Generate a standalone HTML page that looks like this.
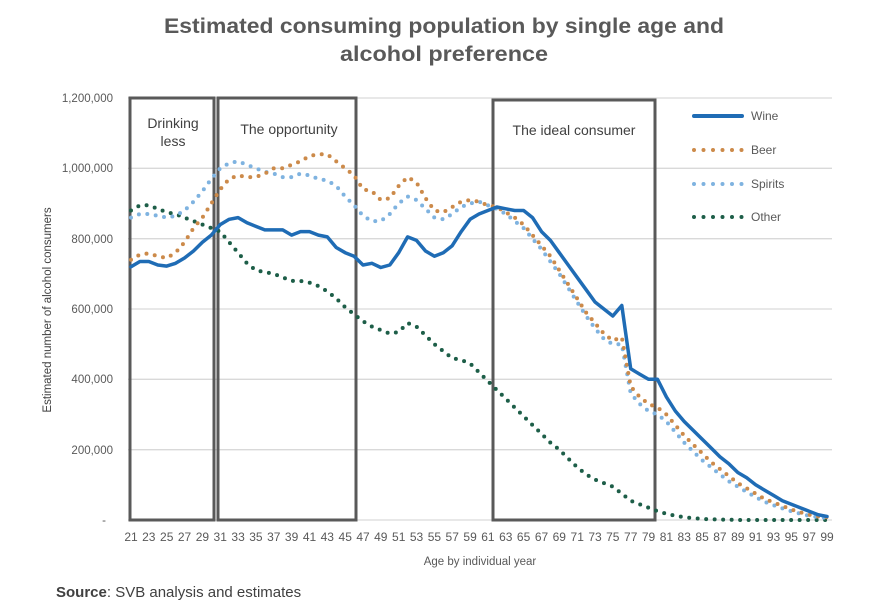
<!DOCTYPE html>
<html><head><meta charset="utf-8"><style>
html,body{margin:0;padding:0;background:#fff;}
svg{display:block;font-family:"Liberation Sans",Arial,sans-serif;}
</style></head><body>
<svg width="870" height="616" viewBox="0 0 870 616" xmlns="http://www.w3.org/2000/svg">
<text x="444" y="33" text-anchor="middle" font-size="21" font-weight="bold" fill="#595959" textLength="560" lengthAdjust="spacingAndGlyphs">Estimated consuming population by single age and</text>
<text x="444" y="61" text-anchor="middle" font-size="21" font-weight="bold" fill="#595959" textLength="208" lengthAdjust="spacingAndGlyphs">alcohol preference</text>
<g stroke="#d9d9d9" stroke-width="1.3">
<line x1="128" y1="98" x2="832" y2="98"/><line x1="128" y1="168.3" x2="832" y2="168.3"/><line x1="128" y1="238.7" x2="832" y2="238.7"/><line x1="128" y1="309" x2="832" y2="309"/><line x1="128" y1="379.3" x2="832" y2="379.3"/><line x1="128" y1="449.7" x2="832" y2="449.7"/><line x1="128" y1="520" x2="832" y2="520"/>
</g>
<g font-size="11.5" fill="#595959" text-anchor="end">
<text x="113" y="102">1,200,000</text><text x="113" y="172">1,000,000</text><text x="113" y="243">800,000</text><text x="113" y="313">600,000</text><text x="113" y="383">400,000</text><text x="113" y="454">200,000</text><text x="106" y="524">-</text>
</g>
<text transform="translate(51,310) rotate(-90)" text-anchor="middle" font-size="11.5" fill="#404040">Estimated number of alcohol consumers</text>
<g font-size="12" fill="#595959" text-anchor="middle">
<text x="131" y="541">21</text><text x="148.8" y="541">23</text><text x="166.7" y="541">25</text><text x="184.5" y="541">27</text><text x="202.4" y="541">29</text><text x="220.2" y="541">31</text><text x="238.1" y="541">33</text><text x="255.9" y="541">35</text><text x="273.8" y="541">37</text><text x="291.6" y="541">39</text><text x="309.5" y="541">41</text><text x="327.3" y="541">43</text><text x="345.2" y="541">45</text><text x="363" y="541">47</text><text x="380.8" y="541">49</text><text x="398.7" y="541">51</text><text x="416.5" y="541">53</text><text x="434.4" y="541">55</text><text x="452.2" y="541">57</text><text x="470.1" y="541">59</text><text x="487.9" y="541">61</text><text x="505.8" y="541">63</text><text x="523.6" y="541">65</text><text x="541.5" y="541">67</text><text x="559.3" y="541">69</text><text x="577.2" y="541">71</text><text x="595" y="541">73</text><text x="612.8" y="541">75</text><text x="630.7" y="541">77</text><text x="648.5" y="541">79</text><text x="666.4" y="541">81</text><text x="684.2" y="541">83</text><text x="702.1" y="541">85</text><text x="719.9" y="541">87</text><text x="737.8" y="541">89</text><text x="755.6" y="541">91</text><text x="773.5" y="541">93</text><text x="791.3" y="541">95</text><text x="809.2" y="541">97</text><text x="827" y="541">99</text>
</g>
<text x="480" y="565" text-anchor="middle" font-size="11.5" fill="#595959">Age by individual year</text>
<text x="56" y="597" font-size="15" fill="#404040"><tspan font-weight="bold">Source</tspan>: SVB analysis and estimates</text>
<g fill="none" stroke="#595959" stroke-width="3">
<rect x="130" y="98" width="84" height="422"/>
<rect x="218" y="98" width="138" height="422"/>
<rect x="493" y="100" width="162" height="420"/>
</g>
<g font-size="14" fill="#404040" text-anchor="middle">
<text x="173" y="128">Drinking</text><text x="173" y="146">less</text>
<text x="289" y="134">The opportunity</text>
<text x="574" y="135">The ideal consumer</text>
</g>
<g id="series"></g>
<g font-size="12" fill="#595959">
<line x1="694" y1="116" x2="742" y2="116" stroke="#1f6cb5" stroke-width="4" stroke-linecap="round"/>
<text x="751" y="120">Wine</text>
<line x1="694" y1="150" x2="742" y2="150" stroke="#cc8a4a" stroke-width="4" stroke-linecap="round" stroke-dasharray="0 9.5"/>
<text x="751" y="154">Beer</text>
<line x1="694" y1="184" x2="742" y2="184" stroke="#7fb3e0" stroke-width="4" stroke-linecap="round" stroke-dasharray="0 9.5"/>
<text x="751" y="188">Spirits</text>
<line x1="694" y1="217" x2="742" y2="217" stroke="#1d5e48" stroke-width="4" stroke-linecap="round" stroke-dasharray="0 9.5"/>
<text x="751" y="221">Other</text>
</g>
</svg>
<script>
var NS="http://www.w3.org/2000/svg";
function X(a){return 131+(a-21)*8.923;}
function Y(v){return 520-v*0.35167;}
var wine=[720,735,735,725,722,730,745,765,790,810,840,855,860,845,835,825,825,825,810,820,820,810,805,775,760,750,725,730,718,725,760,805,795,765,750,760,780,820,855,870,880,890,885,880,880,860,820,795,760,725,690,655,620,600,580,610,430,415,400,400,350,310,280,255,230,205,180,160,135,120,100,85,70,55,45,35,25,15,10];
var beer=[740,755,758,750,745,760,790,830,860,900,940,970,980,975,975,985,1000,1000,1010,1020,1035,1040,1040,1020,1000,980,940,935,910,915,950,975,960,915,880,875,890,905,910,905,895,890,875,860,840,810,780,750,710,670,630,590,560,530,510,520,380,350,330,320,300,270,240,215,190,165,145,125,105,90,75,60,50,40,30,22,15,10,8];
var spir=[860,870,870,865,860,865,880,905,935,970,1000,1015,1020,1010,1000,990,985,975,975,985,980,970,965,950,920,895,865,850,850,870,900,920,910,885,860,855,870,890,900,905,895,885,870,850,830,800,770,735,700,660,620,580,545,515,500,500,360,330,310,300,280,250,220,195,170,150,130,110,95,80,65,52,42,33,25,18,12,8,6];
var oth=[880,895,895,885,875,870,860,850,840,830,820,790,760,730,710,705,700,690,680,680,675,665,650,630,605,585,565,550,540,530,535,560,550,525,500,480,460,455,445,420,395,370,345,320,295,270,245,220,200,175,150,130,115,105,95,75,55,45,35,25,18,12,8,5,3,2,1,1,0,0,0,0,0,0,0,0,0,0,0];
function pts(d){return d.map(function(v,i){return X(21+i).toFixed(1)+","+Y(v).toFixed(1);}).join(" ");}
var g=document.getElementById("series");
function add(d,c,dash){var p=document.createElementNS(NS,"polyline");p.setAttribute("points",pts(d));p.setAttribute("fill","none");p.setAttribute("stroke",c);p.setAttribute("stroke-width",dash?"4":"3.5");p.setAttribute("stroke-linecap","round");p.setAttribute("stroke-linejoin","round");if(dash)p.setAttribute("stroke-dasharray","0 8.5");g.appendChild(p);}
add(oth,"#1d5e48",1);add(spir,"#7fb3e0",1);add(beer,"#cc8a4a",1);add(wine,"#1f6cb5",0);
</script>
</body></html>
